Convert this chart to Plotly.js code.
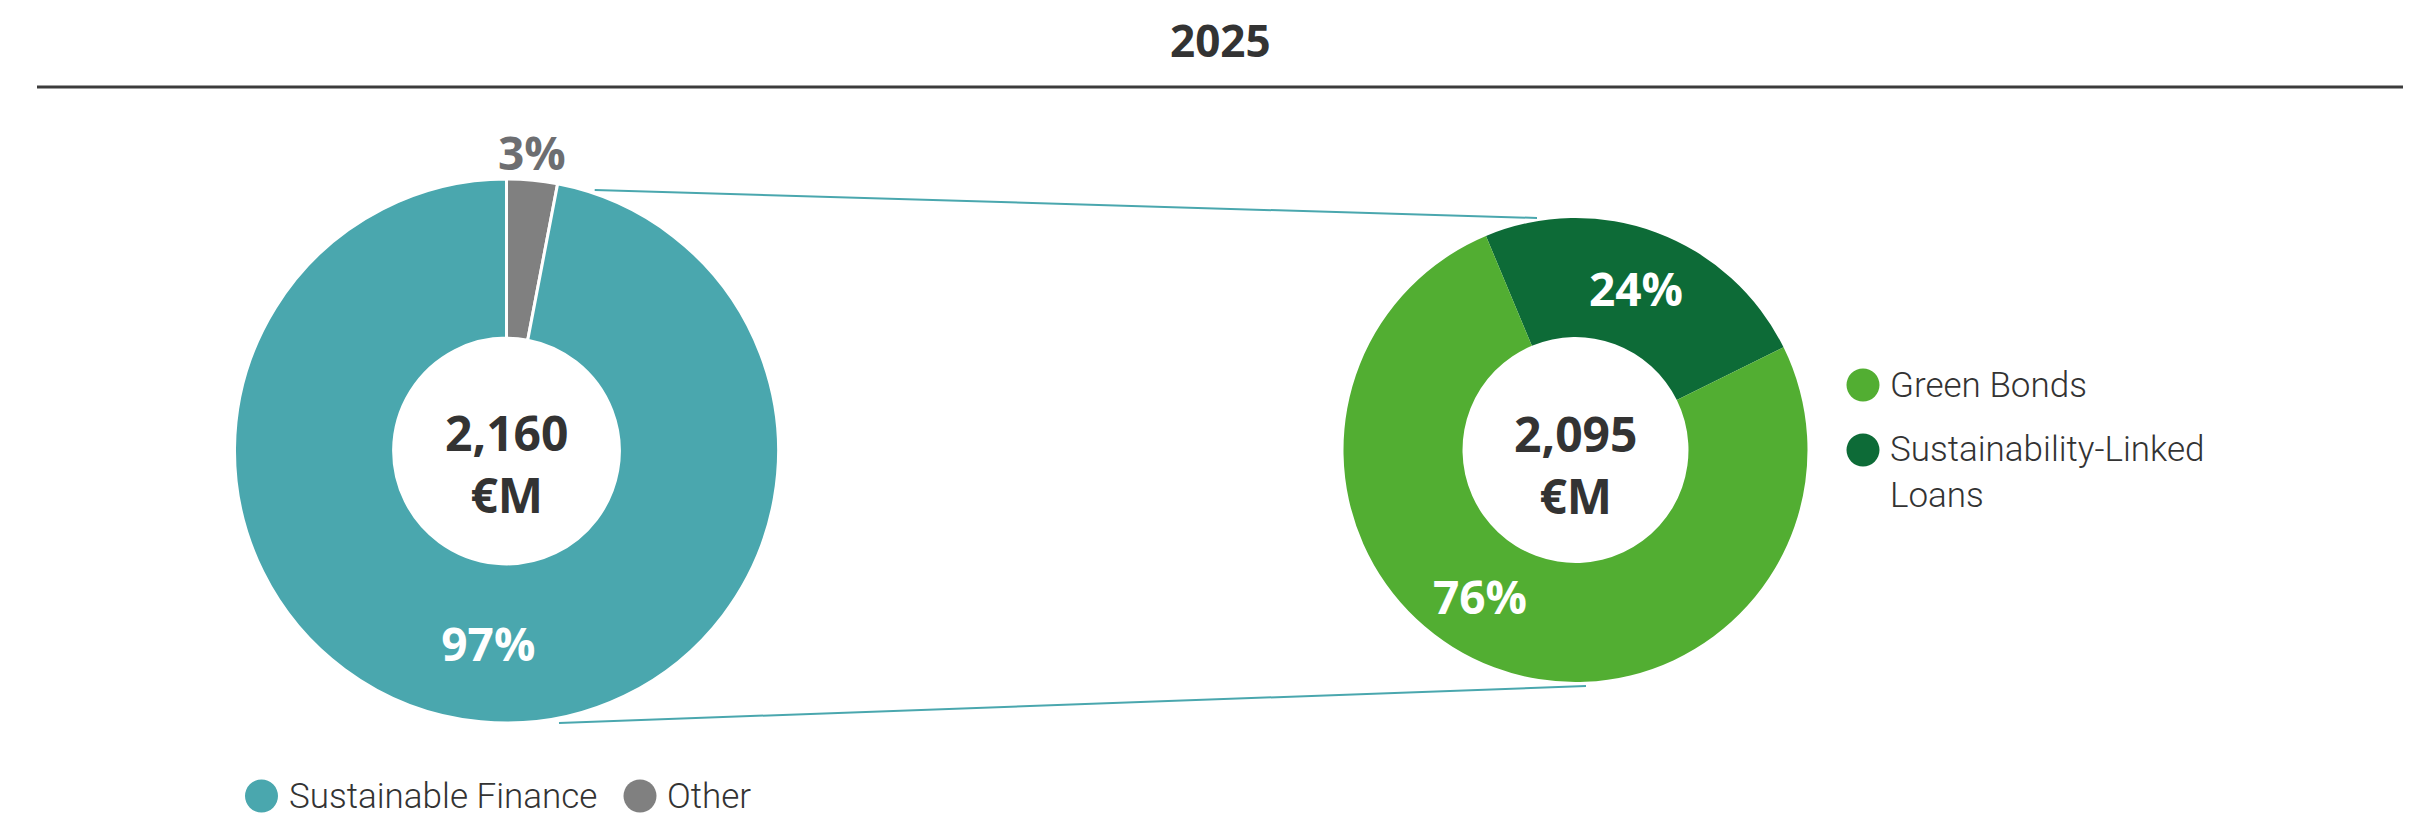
<!DOCTYPE html>
<html>
<head>
<meta charset="utf-8">
<script src="https://cdn.plot.ly/plotly-3.0.1.min.js"></script>
<style>
  html, body { margin: 0; padding: 0; background: #ffffff; }
  #chart { width: 2422px; height: 816px; }
</style>
</head>
<body>
<div id="chart"></div>
<script>
// ---- Data ----
const chartTitle = '2025';
const totalLabels = ['Sustainable Finance', 'Other'];
const totalValues = [2095, 65];
const totalColors = ['#4aa7ae', '#808080'];

const sfLabels = ['Green Bonds', 'Sustainability-Linked Loans'];
const sfValues = [1592, 503];
const sfColors = ['#52ae32', '#0d6b37'];

const unitLabel = '€M';

// ---- Layout helpers (page pixels -> paper fractions) ----
const W = 2422, H = 816;
const px = x => x / W;
const py = y => 1 - y / H;
const sum = a => a.reduce((s, v) => s + v, 0);
const fmt = v => v.toLocaleString('en-US');
const pct = (v, arr) => Math.round(v / sum(arr) * 100) + '%';

const pctFont = { family: 'Open Sans', size: 46, color: '#ffffff', weight: 700 };
const centerFont = { family: 'Open Sans', size: 48, color: '#333333', weight: 700 };
const legendFont = { family: 'Roboto', size: 35, color: '#333333', weight: 300 };

// Left pie: trace order reversed so "Other" starts at 12 o'clock going clockwise
const leftPie = {
  type: 'pie',
  labels: totalLabels.slice().reverse(),
  values: totalValues.slice().reverse(),
  marker: { colors: totalColors.slice().reverse(), line: { color: '#ffffff', width: 3 } },
  sort: false,
  direction: 'clockwise',
  rotation: 0,
  hole: 0.415,
  domain: { x: [px(234.5), px(778.5)], y: [py(723), py(179)] },
  texttemplate: '%{percent:.0%}',
  textposition: ['none', 'inside'],
  insidetextorientation: 'horizontal',
  insidetextfont: pctFont,
  hoverinfo: 'label+value+percent',
  showlegend: false
};

const rightPie = {
  type: 'pie',
  labels: sfLabels.slice().reverse(),
  values: sfValues.slice().reverse(),
  marker: { colors: sfColors.slice().reverse(), line: { color: '#ffffff', width: 0 } },
  sort: false,
  direction: 'clockwise',
  rotation: -22.7,
  hole: 0.487,
  domain: { x: [px(1343.5), px(1807.5)], y: [py(682), py(218)] },
  texttemplate: '%{percent:.0%}',
  textposition: ['inside', 'none'],
  insidetextorientation: 'horizontal',
  insidetextfont: pctFont,
  hoverinfo: 'label+value+percent',
  showlegend: false
};

const shapes = [];
const annotations = [];

// ---- Centre totals ----
annotations.push({
  xref: 'paper', yref: 'paper', x: px(506.5), y: py(463),
  xanchor: 'center', yanchor: 'middle', showarrow: false,
  text: fmt(sum(totalValues)) + '<br>' + unitLabel, font: centerFont
});
annotations.push({
  xref: 'paper', yref: 'paper', x: px(1575.5), y: py(464),
  xanchor: 'center', yanchor: 'middle', showarrow: false,
  text: fmt(sum(sfValues)) + '<br>' + unitLabel, font: centerFont
});

// ---- Percent labels placed by hand ----
annotations.push({
  xref: 'paper', yref: 'paper', x: px(532), y: py(152),
  xanchor: 'center', yanchor: 'middle', showarrow: false,
  text: pct(totalValues[1], totalValues),
  font: { family: 'Open Sans', size: 46, color: '#6d6e71', weight: 700 }
});
annotations.push({
  xref: 'paper', yref: 'paper', x: px(1479.5), y: py(596),
  xanchor: 'center', yanchor: 'middle', showarrow: false,
  text: pct(sfValues[0], sfValues), font: pctFont
});

// ---- Custom legends (circle markers) ----
function legendItem(cx, cy, color, text, textYOffset) {
  shapes.push({
    type: 'circle', xref: 'paper', yref: 'paper',
    xsizemode: 'pixel', ysizemode: 'pixel',
    xanchor: px(cx), yanchor: py(cy),
    x0: -16.5, x1: 16.5, y0: -16.5, y1: 16.5,
    fillcolor: color, line: { width: 0 }
  });
  annotations.push({
    xref: 'paper', yref: 'paper', x: px(cx + 25), y: py(cy + (textYOffset || 0)),
    xanchor: 'left', yanchor: 'middle', align: 'left',
    text: text, showarrow: false, font: legendFont
  });
}

const bottomLegendX = [261.5, 640];
totalLabels.forEach((l, i) => legendItem(bottomLegendX[i], 796, totalColors[i], l, 0));

legendItem(1863, 385, sfColors[0], sfLabels[0], 0);
legendItem(1863, 450, sfColors[1], sfLabels[1].replace(' Loans', '<br>Loans'), 22);

// ---- Title and rule ----
annotations.push({
  xref: 'paper', yref: 'paper', x: px(1220), y: py(40),
  xanchor: 'center', yanchor: 'middle', text: '<b>' + chartTitle + '</b>', showarrow: false,
  font: { family: 'Open Sans', size: 44, color: '#333333' }
});
shapes.push({
  type: 'line', xref: 'paper', yref: 'paper',
  x0: px(37), x1: px(2403), y0: py(87), y1: py(87),
  line: { color: '#3c3c3c', width: 3 }
});

// ---- Connector lines between the pies ----
shapes.push({
  type: 'line', xref: 'paper', yref: 'paper',
  x0: px(594.7), y0: py(190), x1: px(1537), y1: py(218),
  line: { color: '#4aa7ae', width: 2 }
});
shapes.push({
  type: 'line', xref: 'paper', yref: 'paper',
  x0: px(559), y0: py(723), x1: px(1586), y1: py(686),
  line: { color: '#4aa7ae', width: 2 }
});

const layout = {
  width: W, height: H,
  margin: { l: 0, r: 0, t: 0, b: 0 },
  paper_bgcolor: '#ffffff',
  plot_bgcolor: '#ffffff',
  showlegend: false,
  shapes: shapes,
  annotations: annotations,
  font: { family: 'Open Sans', color: '#333333' }
};

Plotly.newPlot('chart', [leftPie, rightPie], layout, { displayModeBar: false, staticPlot: true });
</script>
</body>
</html>
